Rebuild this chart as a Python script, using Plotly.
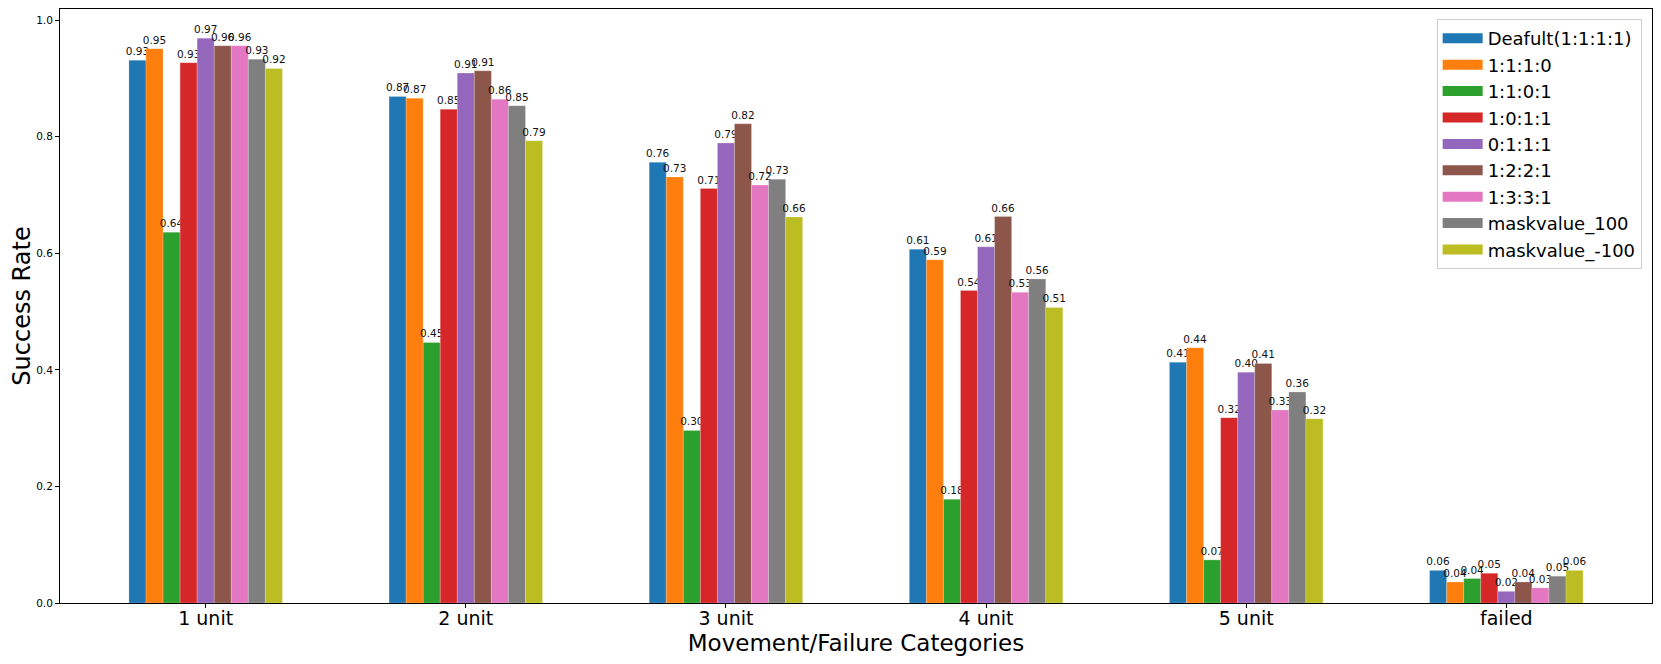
import plotly.graph_objects as go

categories = ["1 unit", "2 unit", "3 unit", "4 unit", "5 unit", "failed"]
series_names = ["Deafult(1:1:1:1)", "1:1:1:0", "1:1:0:1", "1:0:1:1", "0:1:1:1",
                "1:2:2:1", "1:3:3:1", "maskvalue_100", "maskvalue_-100"]
colors = ["#1f77b4", "#ff7f0e", "#2ca02c", "#d62728", "#9467bd",
          "#8c564b", "#e377c2", "#7f7f7f", "#bcbd22"]

deafult = [0.931, 0.869, 0.756, 0.607, 0.413, 0.056]
v_1110 = [0.951, 0.866, 0.731, 0.589, 0.438, 0.036]
v_1101 = [0.636, 0.447, 0.296, 0.178, 0.074, 0.042]
v_1011 = [0.927, 0.847, 0.711, 0.536, 0.318, 0.051]
v_0111 = [0.969, 0.909, 0.789, 0.611, 0.396, 0.020]
v_1221 = [0.956, 0.913, 0.822, 0.663, 0.411, 0.036]
v_1331 = [0.956, 0.864, 0.717, 0.533, 0.331, 0.026]
mask_100 = [0.933, 0.853, 0.727, 0.556, 0.362, 0.046]
mask_m100 = [0.917, 0.793, 0.662, 0.507, 0.316, 0.056]

series_values = [deafult, v_1110, v_1101, v_1011, v_0111, v_1221, v_1331, mask_100, mask_m100]

y_ticks = [0.0, 0.2, 0.4, 0.6, 0.8, 1.0]

FONT = "DejaVu Sans"

fig = go.Figure()
for name, vals, col in zip(series_names, series_values, colors):
    fig.add_trace(go.Bar(
        name=name,
        x=list(range(len(categories))),
        y=vals,
        marker=dict(color=col, line=dict(color="rgba(255,255,255,0.35)", width=0.6)),
        text=[f"{v:.2f}" for v in vals],
        textposition="outside",
        textfont=dict(size=10.5, color="#111", family=FONT),
        constraintext="none",
        cliponaxis=False,
        showlegend=False,
    ))

# legend entries with wide rectangular swatches
for name, col in zip(series_names, colors):
    fig.add_trace(go.Scatter(
        name=name, x=[None], y=[None], mode="lines",
        line=dict(color=col, width=13),
        showlegend=True, hoverinfo="skip",
    ))

fig.update_layout(
    width=1645, height=648,
    barmode="group",
    bargap=0.41,
    bargroupgap=0,
    plot_bgcolor="white",
    paper_bgcolor="white",
    font=dict(family=FONT, color="black"),
    margin=dict(l=52, r=1, t=1, b=53),
    legend=dict(
        x=0.9935, xanchor="right", y=0.983, yanchor="top",
        bgcolor="rgba(255,255,255,0.85)",
        bordercolor="#cccccc", borderwidth=1,
        font=dict(size=18, family=FONT, color="black"),
        tracegroupgap=0,
        itemwidth=40,
    ),
    xaxis=dict(
        tickmode="array",
        tickvals=list(range(len(categories))),
        ticktext=categories,
        range=[-0.56, 5.56],
        showline=True, linecolor="black", linewidth=1, mirror=True,
        ticks="outside", ticklen=4, tickcolor="black",
        tickfont=dict(size=19, family=FONT),
        ticklabelstandoff=-6,
        showgrid=False, zeroline=False,
        title=dict(text="Movement/Failure Categories", font=dict(size=23, family=FONT), standoff=8),
    ),
    yaxis=dict(
        range=[0, 1.019],
        tickvals=y_ticks,
        ticktext=[f"{t:.1f}" for t in y_ticks],
        showline=True, linecolor="black", linewidth=1, mirror=True,
        ticks="outside", ticklen=4, tickcolor="black",
        tickfont=dict(size=10.5, family=FONT),
        showgrid=False, zeroline=False,
        title=dict(text="Success Rate", font=dict(size=24, family=FONT), standoff=4),
    ),
)

fig.write_html("out.html")
